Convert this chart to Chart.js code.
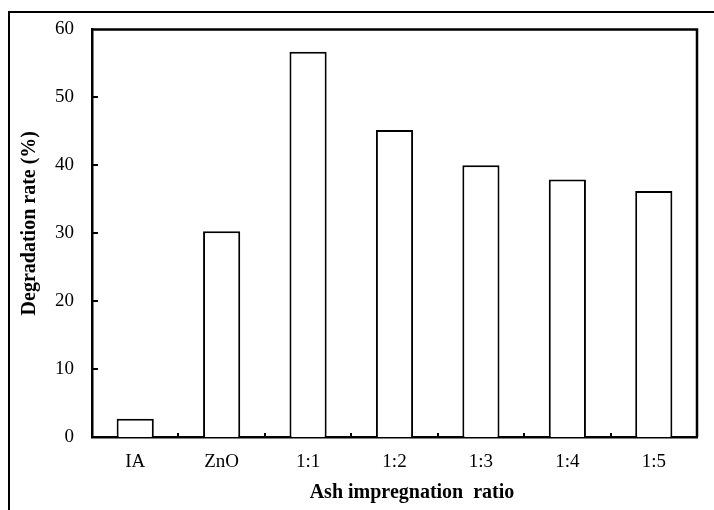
<!DOCTYPE html>
<html>
<head>
<meta charset="utf-8">
<script src="https://cdn.jsdelivr.net/npm/chart.js@4.4.1/dist/chart.umd.min.js"></script>
<style>
  html, body { margin: 0; padding: 0; background: #fff; }
  canvas { display: block; }
</style>
</head>
<body>
<canvas id="chart" width="714" height="510"></canvas>
<script>
'use strict';

// ── Data ─────────────────────────────────────────────────
const categories = ['IA', 'ZnO', '1:1', '1:2', '1:3', '1:4', '1:5'];
const degradation = [2.7, 30.3, 56.7, 45.2, 40.0, 37.9, 36.2];
const yTicks = [0, 10, 20, 30, 40, 50, 60];

const SERIF = "'Liberation Serif', 'Times New Roman', serif";

// outer frame + plot box + inward tick marks
const framePlugin = {
    id: 'frame',
    beforeDraw(chart) {
        const { ctx } = chart;
        ctx.save();
        ctx.strokeStyle = '#000';
        ctx.lineWidth = 2;
        ctx.beginPath();
        ctx.moveTo(9, 510);
        ctx.lineTo(9, 12);
        ctx.lineTo(714, 12);
        ctx.stroke();
        ctx.restore();
    },
    afterDraw(chart) {
        const { ctx, chartArea: a, scales: { x, y } } = chart;
        ctx.save();
        ctx.strokeStyle = '#000';
        ctx.lineWidth = 2.5;
        ctx.beginPath();
        ctx.moveTo(a.left, a.top);
        ctx.lineTo(a.right, a.top);
        ctx.lineTo(a.right, a.bottom);
        ctx.stroke();

        ctx.lineWidth = 2;
        ctx.beginPath();
        yTicks.slice(1, -1).forEach(v => {
            const py = Math.round(y.getPixelForValue(v));
            ctx.moveTo(a.left, py);
            ctx.lineTo(a.left + 6, py);
        });
        const half = (x.getPixelForValue(1) - x.getPixelForValue(0)) / 2;
        for (let i = 0; i < categories.length - 1; i++) {
            const px = Math.round(x.getPixelForValue(i) + half);
            ctx.moveTo(px, a.bottom);
            ctx.lineTo(px, a.bottom - 4);
        }
        ctx.stroke();
        ctx.restore();
    }
};

new Chart(document.getElementById('chart').getContext('2d'), {
    type: 'bar',
    data: {
        labels: categories,
        datasets: [{
            data: degradation,
            backgroundColor: '#fff',
            borderColor: '#000',
            borderWidth: 2,
            barPercentage: 0.43,
            categoryPercentage: 1
        }]
    },
    options: {
        responsive: false,
        animation: false,
        layout: { padding: { top: 29, right: 17, left: 0, bottom: 0 } },
        plugins: {
            legend: { display: false },
            tooltip: { enabled: false }
        },
        scales: {
            x: {
                grid: { display: false, drawTicks: false },
                border: { color: '#000', width: 2.5 },
                ticks: { color: '#000', padding: 14, font: { family: SERIF, size: 19 } },
                title: {
                    display: true,
                    text: '       Ash impregnation  ratio',
                    color: '#000',
                    font: { family: SERIF, size: 20, weight: 'bold' },
                    padding: { top: 0, bottom: 5 }
                },
                afterFit(scale) { scale.height = 73; }
            },
            y: {
                min: 0,
                max: 60,
                afterBuildTicks(scale) { scale.ticks = yTicks.map(v => ({ value: v })); },
                grid: { display: false, drawTicks: false },
                border: { color: '#000', width: 2.5 },
                ticks: { color: '#000', padding: 18, font: { family: SERIF, size: 19 } },
                title: {
                    display: true,
                    text: '    Degradation rate (%)',
                    color: '#000',
                    font: { family: SERIF, size: 20, weight: 'bold' },
                    padding: { top: 18, bottom: 0 }
                },
                afterFit(scale) { scale.width = 92; }
            }
        }
    },
    plugins: [framePlugin]
});
</script>
</body>
</html>
